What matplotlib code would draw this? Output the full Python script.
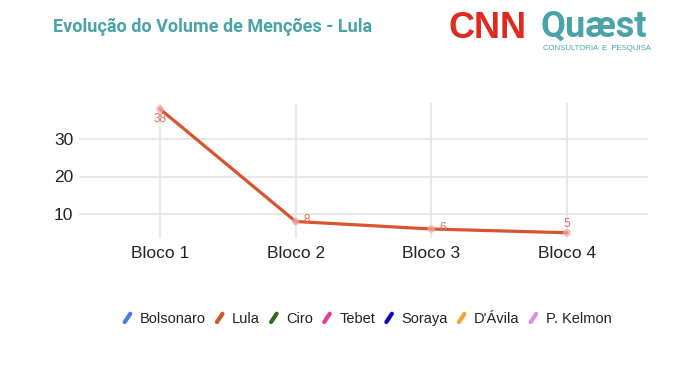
import matplotlib
matplotlib.use("Agg")
import matplotlib.pyplot as plt
from matplotlib.lines import Line2D
from matplotlib.legend_handler import HandlerBase

categories = ["Bloco 1", "Bloco 2", "Bloco 3", "Bloco 4"]
lula_values = [38, 8, 6, 5]
legend_names = ["Bolsonaro", "Lula", "Ciro", "Tebet", "Soraya", "D'Ávila", "P. Kelmon"]
legend_colors = ["#4a7be0", "#d9532f", "#2f6b1f", "#e0409a", "#0a0ab8", "#f0a43a", "#d890e6"]
yticks = [10, 20, 30]

title = "Evolução do Volume de Menções - Lula"

plt.rcParams['font.family'] = ['Liberation Sans', 'DejaVu Sans']

W, H = 680, 381
fig = plt.figure(figsize=(W / 100, H / 100), dpi=100)
fig.patch.set_facecolor("white")

left, right, top, bottom = 79, 648, 103, 238
ax = fig.add_axes([left / W, 1 - bottom / H, (right - left) / W, (bottom - top) / H])

x = list(range(1, len(categories) + 1))
line_color = "#d9532f"
ax.plot(x, lula_values, color=line_color, lw=2.3, solid_capstyle="round", zorder=3)
ax.scatter(x, lula_values, s=30, color="#f2a8a0", alpha=0.7, zorder=4, edgecolors="none")

offsets = [(0, -3, "center", "top"), (6, 1, "left", "center"), (6, 1, "left", "center"), (0, 2, "center", "bottom")]
for xi, v, (dx, dy, ha, va) in zip(x, lula_values, offsets):
    ax.annotate(str(v), (xi, v), xytext=(dx, dy), textcoords="offset points",
                ha=ha, va=va, fontsize=8.5, color="#e07060", zorder=5)

ax.set_xlim(0.403, 4.597)
ax.set_ylim(3.6, 39.6)
ax.set_xticks(x)
ax.set_xticklabels(categories, fontsize=12.5, color="#222222")
ax.set_yticks(yticks)
ax.set_yticklabels([str(t) for t in yticks], fontsize=12.5, color="#222222")
ax.tick_params(axis="y", length=0, pad=4)
ax.tick_params(axis="x", length=0, pad=6)
ax.grid(True, color="#e6e6e6", lw=1.3)
ax.set_axisbelow(True)
for s in ax.spines.values():
    s.set_visible(False)

# title and logos
fig.text(53 / W, 1 - 27 / H, title, fontsize=13, fontweight="bold", color="#4aa3a6",
         family=["Roboto", "DejaVu Sans"], ha="left", va="center")
fig.text(448 / W, 1 - 29 / H, "CNN", fontsize=26, fontweight="bold", color="#e02a20",
         family=["Liberation Sans Narrow", "Liberation Sans"], ha="left", va="center")
fig.text(541 / W, 1 - 27 / H, "Quæst", fontsize=26, fontweight="bold", color="#4aa3a6",
         family=["Roboto", "DejaVu Sans"], ha="left", va="center")
fig.text(543 / W, 1 - 48 / H, "CONSULTORIA  E  PESQUISA", fontsize=5.6, color="#4aa3a6",
         ha="left", va="center")


class DiagHandler(HandlerBase):
    def create_artists(self, legend, orig_handle, xdescent, ydescent, width, height, fontsize, trans):
        cx = width / 2 - xdescent
        cy = height / 2 - ydescent
        l = Line2D([cx - 2.0, cx + 2.0], [cy - 3.0, cy + 3.0], color=orig_handle.get_color(),
                   lw=3, solid_capstyle="round", transform=trans)
        return [l]


handles = [Line2D([], [], color=c) for c in legend_colors]
leg = fig.legend(handles, legend_names, loc="center", bbox_to_anchor=(367 / W, 1 - 319 / H),
                 ncol=len(legend_names), frameon=False, fontsize=10.5,
                 handler_map={Line2D: DiagHandler()}, handlelength=0.7, handletextpad=0.5,
                 columnspacing=0.6)
for t in leg.get_texts():
    t.set_color("#222222")

fig.savefig("out.png", dpi=100, facecolor="white")
